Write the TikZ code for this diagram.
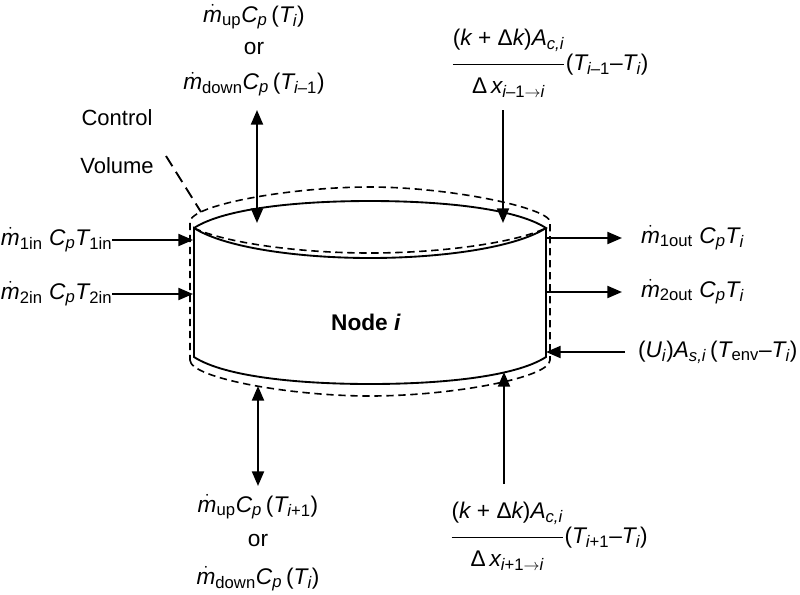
\documentclass[tikz,border=0pt]{standalone}
\usepackage{amsmath}
\usepackage{fontspec}
\setmainfont{Liberation Sans}
\usetikzlibrary{arrows.meta}

\DeclareMathSizes{17}{17}{12.5}{10}

% italic letters and upright words, both from the text font
\newcommand{\tv}[1]{\text{\itshape #1}}
\newcommand{\tr}[1]{\text{#1}}
\newcommand{\mdot}[1]{\dot{\tv{m}}_{\tr{#1}}}
\newcommand{\cp}{\tv{C}_{\tv{p}}}
\newcommand{\numer}{\rule[-12pt]{0pt}{0pt}\tr{(}\tv{k}\;\tr{+}\;\tr{Δ}\tv{k}\tr{)}\tv{A}_{\tv{c,i}}}

\begin{document}
\begin{tikzpicture}
[
    x=0.75pt, y=-0.75pt,
    nodestyle/.style = {inner sep=0pt,
                        outer sep=0pt,
                        font=\fontsize{16.5}{20}\selectfont},
    mathstyle/.style = {inner sep=0pt,
                        outer sep=0pt,
                        align=center,
                        font=\fontsize{17}{20}\selectfont},
    wall/.style      = {line width=1.4pt},
    cv/.style        = {line width=1.2pt,
                        dash pattern=on 5.5pt off 3.5pt},
    leader/.style    = {line width=1.4pt,
                        dash pattern=on 9pt off 5pt},
    arr/.style       = {line width=1.6pt,
                        -{Triangle[length=11pt,width=9pt]}},
    dbl/.style       = {line width=1.6pt,
                        {Triangle[length=11pt,width=9pt]}-{Triangle[length=11pt,width=9pt]}}
]

\useasboundingbox (0,0) rectangle (800,594);

% control volume
\draw[cv] (190,360) .. controls (190,378) and (290,396) .. (370,396)
          .. controls (450,396) and (550,378) .. (550,360)
          -- (550,222) .. controls (550,208) and (450,187) .. (370,187)
          .. controls (290,187) and (190,205) .. (190,222) -- cycle;
\draw[cv] (194,228) .. controls (225,243) and (300,253) .. (370,253)
          .. controls (440,253) and (515,243) .. (546,228);

% the tank
\draw[wall] (194,228) .. controls (225,208) and (300,201) .. (370,201)
            .. controls (440,201) and (515,208) .. (546,228)
            .. controls (515,248) and (440,258) .. (370,258)
            .. controls (300,258) and (225,248) .. (194,228)
            -- (194,357) .. controls (225,377) and (300,384) .. (370,384)
            .. controls (440,384) and (515,377) .. (546,357) -- (546,228);

\node (body) [nodestyle, font=\fontsize{17}{20}\selectfont\bfseries] at (366,322) {Node \textit{i}};

\node (ctrl) [nodestyle] at (117,118) {Control};
\node (vol)  [nodestyle] at (117,166) {Volume};
\coordinate (volend) at (201,212);
\coordinate (volstart) at (166,156);
\draw[leader] (volstart) -- (volend);

% top and bottom labels
\node (upper) [mathstyle] at (254,50.5) {
$\mdot{up}\cp\,\tr{(}\tv{T}_{\tv{i}}\tr{)}$\\[4.5pt]
or\\[6pt]
$\mdot{down}\cp\,\tr{(}\tv{T}_{\tv{i}\tr{--}\tr{1}}\tr{)}$
};

\node (lower) [mathstyle] at (258,543) {
$\mdot{up}\cp\,\tr{(}\tv{T}_{\tv{i}\tr{+1}}\tr{)}$\\[6pt]
or\\[8pt]
$\mdot{down}\cp\,\tr{(}\tv{T}_{\tv{i}}\tr{)}$
};

\node (condup) [mathstyle] at (553,63) {
$\dfrac{\numer}{\rule{0pt}{19pt}\tr{Δ}\,\tv{x}_{\tv{i}\tr{--}\tr{1}\to\tv{i}}}
\tr{(}\tv{T}_{\tv{i}\tr{--}\tr{1}}\tr{--}\tv{T}_{\tv{i}}\tr{)}$
};

\node (conddown) [mathstyle] at (552,536) {
$\dfrac{\numer}{\rule{0pt}{19pt}\tr{Δ}\,\tv{x}_{\tv{i}\tr{+1}\to\tv{i}}}
\tr{(}\tv{T}_{\tv{i}\tr{+1}}\tr{--}\tv{T}_{\tv{i}}\tr{)}$
};

% side labels
\node (in1) [mathstyle, anchor=west] at (1,240) {$\mdot{1in}\;\cp\tv{T}_{\tr{1in}}$};
\node (in2) [mathstyle, anchor=west] at (1,294) {$\mdot{2in}\;\cp\tv{T}_{\tr{2in}}$};
\node (out1) [mathstyle, anchor=west] at (641,238) {$\mdot{1out}\;\cp\tv{T}_{\tv{i}}$};
\node (out2) [mathstyle, anchor=west] at (641,292) {$\mdot{2out}\;\cp\tv{T}_{\tv{i}}$};
\node (env) [mathstyle, anchor=west] at (638,352) {$\tr{(}\tv{U}_{\tv{i}}\tr{)}\tv{A}_{\tv{s,i}}\,\tr{(}\tv{T}_{\tr{env}}\tr{--}\tv{T}_{\tv{i}}\tr{)}$};

% free ends of the connectors
\coordinate (uptop)   at (257,110);
\coordinate (upend)   at (257,223);
\coordinate (rtop)    at (503,110);
\coordinate (rend)    at (503,223);
\coordinate (lowtop)  at (258,386);
\coordinate (lowend)  at (258,486);
\coordinate (rlow)    at (504,372);
\coordinate (rlowend) at (504,484);
\coordinate (wallin1) at (193,240);
\coordinate (wallin2) at (193,294);
\coordinate (wallou1) at (546,238);
\coordinate (tipou1)  at (622,238);
\coordinate (wallou2) at (546,292);
\coordinate (tipou2)  at (622,292);
\coordinate (wallenv) at (546,352);
\coordinate (tailenv) at (625,352);

\draw[dbl] (uptop) -- (upend);
\draw[arr] (rtop) -- (rend);
\draw[dbl] (lowtop) -- (lowend);
\draw[arr] (rlowend) -- (rlow);
\draw[arr] (in1.east) -- (wallin1);
\draw[arr] (in2.east) -- (wallin2);
\draw[arr] (wallou1) -- (tipou1);
\draw[arr] (wallou2) -- (tipou2);
\draw[arr] (tailenv) -- (wallenv);

\end{tikzpicture}
\end{document}
